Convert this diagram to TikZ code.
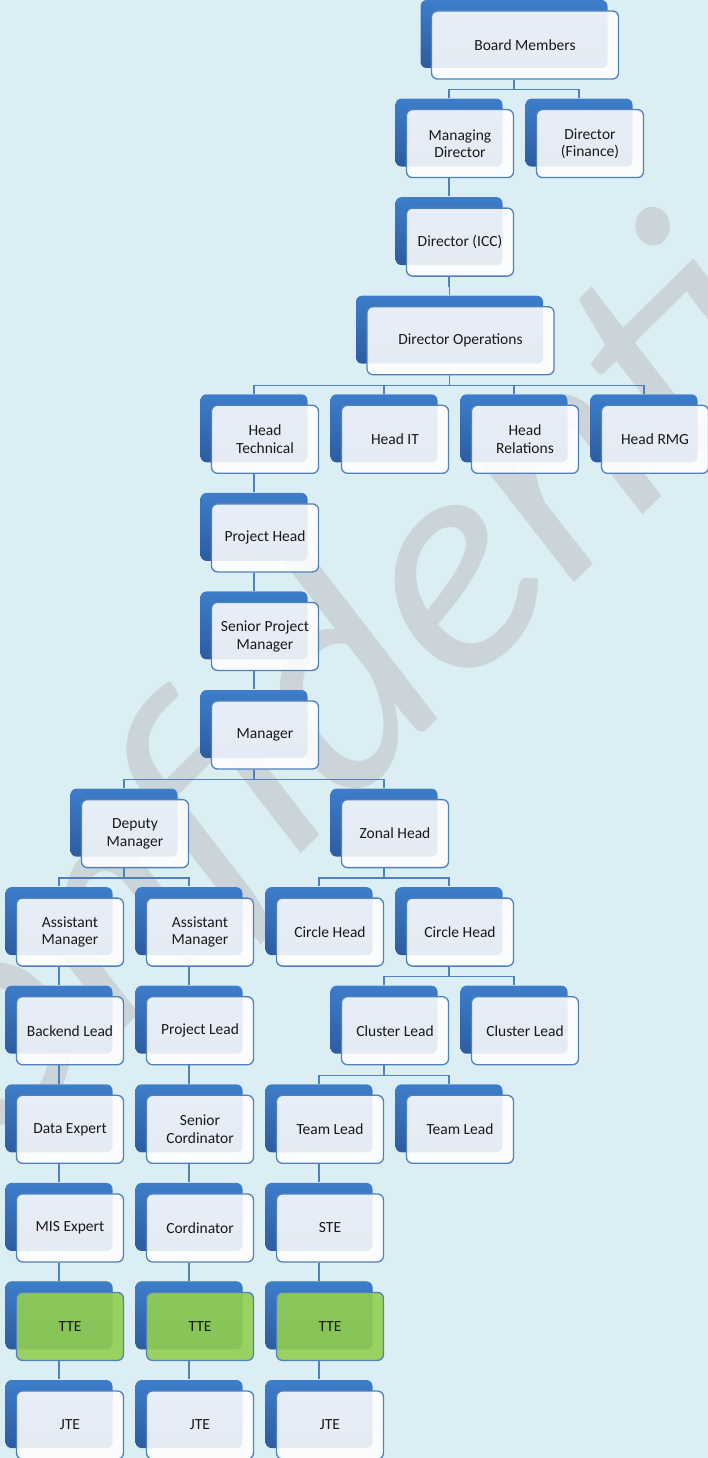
\documentclass[tikz,border=0pt]{standalone}
\usepackage{fontspec}
\setmainfont{Carlito}
\usepackage{tikz}
\usetikzlibrary{shadows}

\definecolor{bgblue}{RGB}{219,238,244}
\definecolor{lineblue}{RGB}{79,129,189}
\definecolor{backtop}{RGB}{61,125,202}
\definecolor{backbot}{RGB}{45,92,160}
\definecolor{ttegreen}{RGB}{146,208,80}
\definecolor{markgray}{RGB}{203,213,217}

\tikzset{
    post/.style = {draw = lineblue , line width = 1.3pt , rounded corners = 6pt ,
        fill = white , fill opacity = 0.88 , text opacity = 1 , text = black!90 ,
        minimum width = 107pt , minimum height = 68pt , align = center ,
        font = \fontsize{15.5}{17.5}\selectfont ,
        copy shadow = {shadow xshift = -11pt , shadow yshift = 11pt , draw = none ,
            fill opacity = 1 , top color = backtop , bottom color = backbot}},
    widepost/.style = {post , minimum width = 187pt},
    greenpost/.style = {post , fill = ttegreen , fill opacity = 0.9},
    link/.style = {draw = lineblue , line width = 1.3pt}
}

\begin{document}
\begin{tikzpicture}[x = 1pt , y = -1pt]
    \useasboundingbox[fill = bgblue] (0,0) rectangle (708,1458);
    \clip (0,0) rectangle (708,1458);
    \node[rotate = 44.7 , anchor = base west , inner sep = 0pt , text = markgray ,
        font = \fontsize{314}{314}\selectfont\itshape] (mark) at (-118.7,1269.1) {Confidential}; % Υδατογράφημα

    % top
    \node[widepost] (board) at (525,45) {Board Members};
    \node[post] (md) at (460,143.6) {Managing\\Director};
    \node[post] (fin) at (590,143.6) {Director\\(Finance)};
    \node[post] (icc) at (460,242.1) {Director (ICC)};
    \node[widepost] (ops) at (460.5,340.7) {Director Operations};
    \node[post] (htech) at (265,439.3) {Head\\Technical};
    \node[post] (hit) at (395,439.3) {Head IT};
    \node[post] (hrel) at (525,439.3) {Head\\Relations};
    \node[post] (hrmg) at (655,439.3) {Head RMG};
    \node[post] (phead) at (265,537.9) {Project Head};
    \node[post] (spm) at (265,636.4) {Senior Project\\Manager};
    \node[post] (mgr) at (265,735) {Manager};

    % branches
    \node[post] (dep) at (135,833.6) {Deputy\\Manager};
    \node[post] (zonal) at (395,833.6) {Zonal Head};
    \node[post] (am1) at (70,932.1) {Assistant\\Manager};
    \node[post] (am2) at (200,932.1) {Assistant\\Manager};
    \node[post] (ch1) at (330,932.1) {Circle Head};
    \node[post] (ch2) at (460,932.1) {Circle Head};
    \node[post] (bel) at (70,1030.7) {Backend Lead};
    \node[post] (plead) at (200,1030.7) {Project Lead};
    \node[post] (cl1) at (395,1030.7) {Cluster Lead};
    \node[post] (cl2) at (525,1030.7) {Cluster Lead};
    \node[post] (data) at (70,1129.3) {Data Expert};
    \node[post] (scord) at (200,1129.3) {Senior\\Cordinator};
    \node[post] (tl1) at (330,1129.3) {Team Lead};
    \node[post] (tl2) at (460,1129.3) {Team Lead};
    \node[post] (mis) at (70,1227.9) {MIS Expert};
    \node[post] (cord) at (200,1227.9) {Cordinator};
    \node[post] (ste) at (330,1227.9) {STE};

    % bottom
    \foreach \n/\x in {1/70, 2/200, 3/330} {
        \node[greenpost] (tte\n) at (\x,1326.4) {TTE};
        \node[post] (jte\n) at (\x,1425) {JTE};
    }

    % links
    \foreach \p/\c in {board/md, board/fin, md/icc, icc/ops, ops/htech, ops/hit, ops/hrel, ops/hrmg,
        htech/phead, phead/spm, spm/mgr, mgr/dep, mgr/zonal, dep/am1, dep/am2, zonal/ch1, zonal/ch2,
        am1/bel, am2/plead, ch2/cl1, ch2/cl2, bel/data, plead/scord, cl1/tl1, cl1/tl2,
        data/mis, scord/cord, tl1/ste, mis/tte1, cord/tte2, ste/tte3, tte1/jte1, tte2/jte2, tte3/jte3}
        \draw[link] ([xshift = -11pt]\p.south) -- ++(0,9.8) -| ([xshift = -11pt , yshift = 11pt]\c.north);
\end{tikzpicture}
\end{document}
